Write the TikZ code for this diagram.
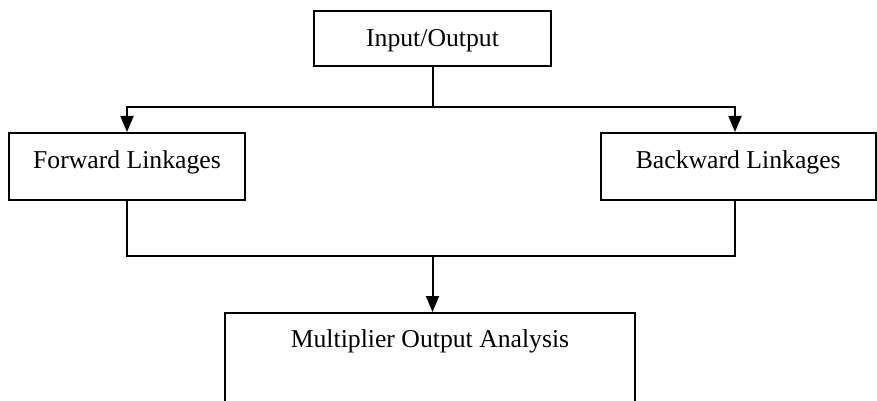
\documentclass[tikz,border=0pt]{standalone}
\usepackage{fontspec}
\setmainfont{Liberation Serif}
\usetikzlibrary{arrows.meta}
\begin{document}
\begin{tikzpicture}[x=1pt,y=-1pt,
  box/.style={draw, line width=2pt, rectangle, inner sep=0pt,
    font=\fontsize{25.7}{30}\selectfont, text height=18pt},
  link/.style={line width=2pt},
  arr/.style={link, -{Triangle[width=13pt,length=16pt]}}]
\useasboundingbox (0,0) rectangle (877,401);
\clip (0,0) rectangle (877,401);

% boxes
\node[box, minimum width=237pt, minimum height=55pt, text depth=1pt]
  (io) at (432.5,38.5) {Input/Output};
\node[box, minimum width=236pt, minimum height=67pt, text depth=14pt]
  (fwd) at (127,166.5) {Forward Linkages};
\node[box, minimum width=274.5pt, minimum height=67pt, text depth=14pt]
  (bwd) at (738.25,166.5) {Backward Linkages};
\node[box, minimum width=410pt, minimum height=100pt, text depth=50pt]
  (mult) at (430,363) {Multiplier Output Analysis};

% ports on the right box
\coordinate (bwdin) at ([xshift=-3.25pt]bwd.north);
\coordinate (bwdout) at ([xshift=-3.25pt]bwd.south);

% split from Input/Output
\draw[link] (io.south) -- ++(0,40) coordinate (fork);
\draw[arr] (fork) -| (fwd.north);
\draw[arr] (fork) -| (bwdin);

% merge into Multiplier Output Analysis
\draw[link] (fwd.south) -- ++(0,55) coordinate (jl) -| (bwdout);
\draw[arr] (jl -| io.south) -- (io.south |- mult.north);
\end{tikzpicture}
\end{document}
